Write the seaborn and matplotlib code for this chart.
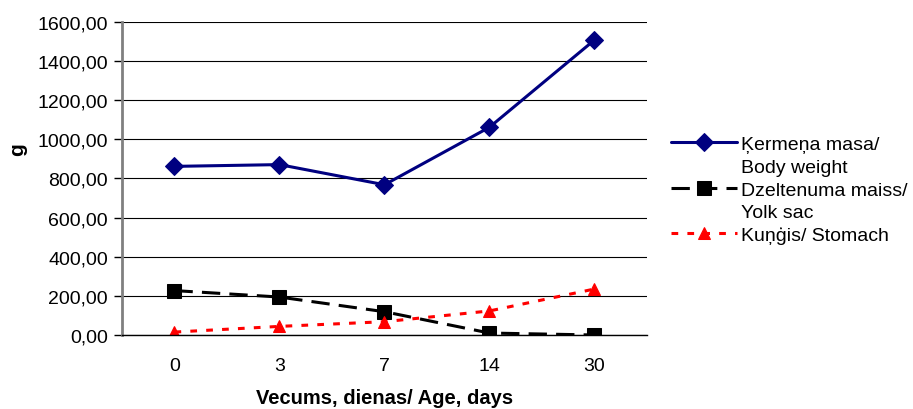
import numpy as np
import pandas as pd
import seaborn as sns
import matplotlib.pyplot as plt
from matplotlib.lines import Line2D
from matplotlib.ticker import FuncFormatter, FixedLocator

days = ["0", "3", "7", "14", "30"]
body_weight = [862, 871, 768, 1062, 1508]
yolk_sac = [227, 194, 119, 10, 0]
stomach = [15, 44, 68, 123, 235]
names = ["Ķermeņa masa/", "Body weight", "Dzeltenuma maiss/", "Yolk sac", "Kuņģis/ Stomach"]

sns.set_style("white")
plt.rcParams['font.family'] = ['Liberation Sans', 'DejaVu Sans']
plt.rcParams.update({"text.color": "black", "axes.labelcolor": "black",
                     "xtick.color": "black", "ytick.color": "black"})

fig = plt.figure(figsize=(9.13, 4.10), dpi=100)
ax = fig.add_axes([0.1336, 0.1805, 0.575, 0.7634])

pos = np.arange(len(days))
df = pd.DataFrame({"x": pos, "bw": body_weight, "ys": yolk_sac, "st": stomach})

sns.lineplot(data=df, x="x", y="bw", ax=ax, color="#000080", lw=2.2, marker="D",
             markersize=9, markeredgecolor="#000080")
sns.lineplot(data=df, x="x", y="ys", ax=ax, color="black", lw=2.2, marker="s",
             markersize=10, markeredgecolor="black")
ax.lines[-1].set_linestyle((0, (6, 3)))
sns.lineplot(data=df, x="x", y="st", ax=ax, color="red", lw=2.2, marker="^",
             markersize=8, markeredgecolor="red")
ax.lines[-1].set_linestyle((0, (2.2, 3)))

ax.set_xlim(-0.5, len(days) - 0.5)
ax.set_ylim(0, 1600)
ax.set_yticks(np.arange(0, 1601, 200))
ax.yaxis.set_major_formatter(FuncFormatter(lambda v, p: f"{v:.2f}".replace(".", ",")))
ax.set_xticks(pos)
ax.set_xticklabels(days)
ax.xaxis.set_minor_locator(FixedLocator(np.arange(-0.5, len(days), 1.0)))
ax.tick_params(axis="x", which="major", length=0, pad=16, labelsize=14)
ax.tick_params(axis="x", which="minor", length=6, width=1, color="black", direction="out")
ax.tick_params(axis="y", length=6, width=1, color="black", direction="out", left=True, labelsize=14, pad=4)

ax.grid(axis="y", color="black", lw=0.8)
for s in ["top", "right"]:
    ax.spines[s].set_visible(False)
ax.spines["left"].set_color("#808080")
ax.spines["left"].set_linewidth(2)
ax.spines["bottom"].set_color("black")
ax.spines["bottom"].set_linewidth(1)

ax.set_xlabel("Vecums, dienas/ Age, days", fontsize=14.5, fontweight="bold", labelpad=10)
ax.set_ylabel("g", fontsize=15, fontweight="bold")
ax.yaxis.set_label_coords(-0.18, 0.595)

blank = Line2D([], [], color="none")
handles = [ax.lines[0], blank, ax.lines[1], blank, ax.lines[2]]
leg = ax.legend(handles, names, loc="upper left", bbox_to_anchor=(1.045, 0.637), frameon=False,
                fontsize=14, handlelength=3.4, handletextpad=0.2, labelspacing=0.26,
                borderaxespad=0, borderpad=0)

fig.savefig("out.png", dpi=100)
